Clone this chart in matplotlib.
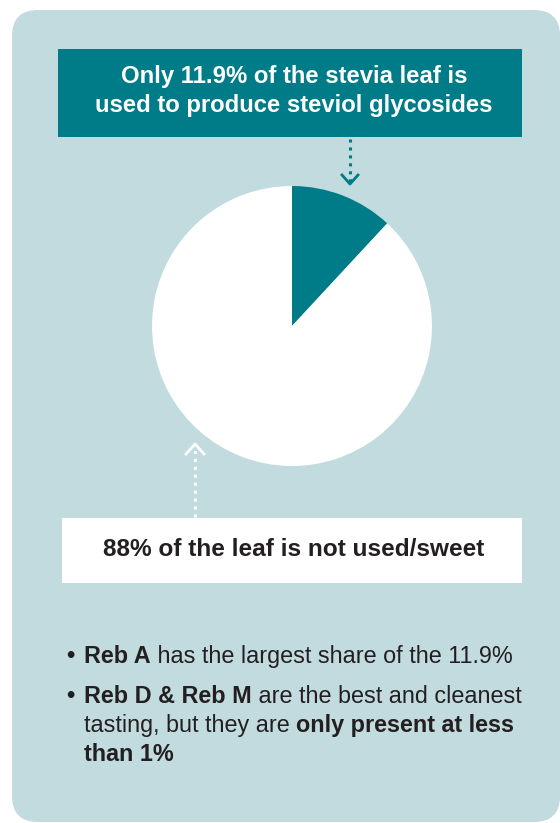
import matplotlib.pyplot as plt
from matplotlib.patches import FancyBboxPatch, Rectangle

# data
slice_labels = ["Steviol glycosides", "Not used / sweet"]
slice_values = [11.9, 88.1]
slice_colors = ["#007B88", "#FFFFFF"]

top_text = "Only 11.9% of the stevia leaf is\nused to produce steviol glycosides"
bottom_text = "88% of the leaf is not used/sweet"
bullets = [
    [[("Reb A", "bold"), (" has the largest share of the 11.9%", "normal")]],
    [[("Reb D & Reb M", "bold"), (" are the best and cleanest", "normal")],
     [("tasting, but they are ", "normal"), ("only present at less", "bold")],
     [("than 1%", "bold")]],
]

TEAL = "#007B88"
PANEL = "#C1DBDF"
DARK = "#231F20"
plt.rcParams["font.family"] = ["Liberation Sans", "DejaVu Sans"]

W, H = 560, 823
fig = plt.figure(figsize=(W / 100, H / 100), dpi=100)
ax = fig.add_axes([0, 0, 1, 1])
ax.set_xlim(0, W)
ax.set_ylim(H, 0)
ax.axis("off")

# background panel
ax.add_patch(FancyBboxPatch((12 + 26, 10 + 26), 560 - 12 - 52, 812 - 52,
                            boxstyle="round,pad=26", fc=PANEL, ec="none"))

# top callout
ax.add_patch(Rectangle((58, 49), 464, 88, fc=TEAL, ec="none"))
ax.text(294, 91, top_text, ha="center", va="center", color="white",
        fontsize=17.2, fontweight="bold", linespacing=1.28)

# bottom callout
ax.add_patch(Rectangle((62, 518), 460, 65, fc="white", ec="none"))
ax.text(294, 549, bottom_text, ha="center", va="center", color=DARK,
        fontsize=17.6, fontweight="bold")

# dotted arrows
ax.plot([350, 350], [139, 183], ls=(0, (1, 1.6)), lw=2.2, color=TEAL)
ax.plot([342, 350, 358], [175, 184, 175], lw=2, color=TEAL)
ax.plot([195, 195], [517, 448], ls=(0, (1, 1.6)), lw=2.2, color="white")
ax.plot([186, 195, 204], [454, 444, 454], lw=2, color="white")

# pie
cx, cy, r = 292, 326, 140
pax = fig.add_axes([(cx - r) / W, 1 - (cy + r) / H, 2 * r / W, 2 * r / H])
pax.pie(slice_values, colors=slice_colors, startangle=90, counterclock=False,
        radius=1, wedgeprops=dict(linewidth=0))
pax.set_xlim(-1, 1)
pax.set_ylim(-1, 1)
pax.axis("off")

# bullets with mixed weights (baseline positions)
fig.canvas.draw()
renderer = fig.canvas.get_renderer()
fs = 16.8
y = 663
line_gap = 29
for bullet in bullets:
    ax.text(70, y - 6, "\u2022", ha="center", va="center", fontsize=fs,
            fontweight="bold", color=DARK)
    for line in bullet:
        x = 84
        for txt, weight in line:
            t = ax.text(x, y, txt, ha="left", va="baseline", fontsize=fs,
                        fontweight=weight, color=DARK)
            x += t.get_window_extent(renderer).width
        y += line_gap
    y += 11

fig.savefig("out.png", dpi=100)
